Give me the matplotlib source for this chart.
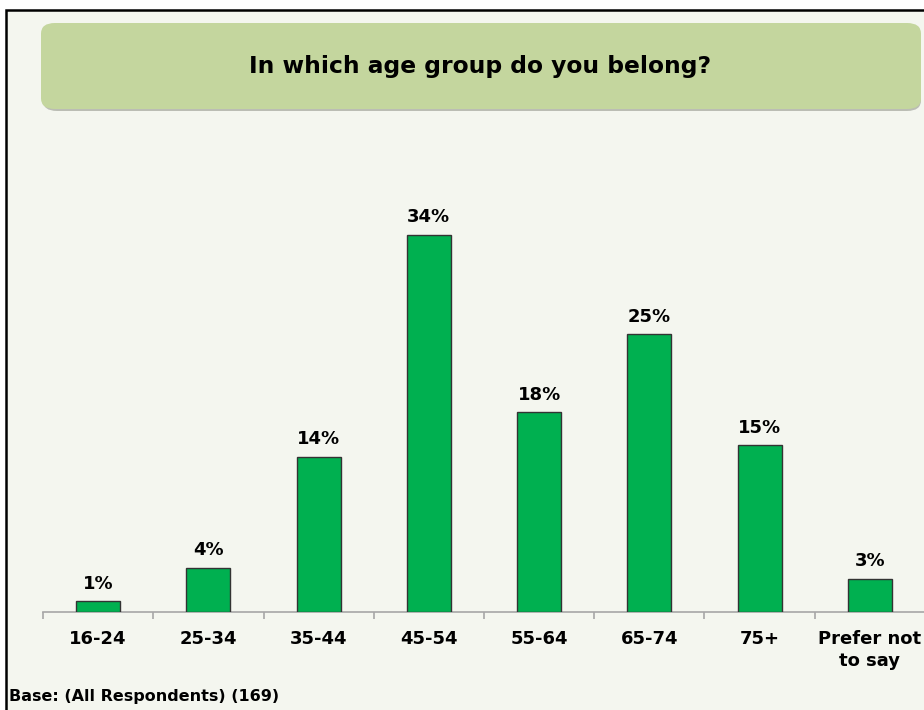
import matplotlib
matplotlib.use("Agg")
import matplotlib.pyplot as plt
from matplotlib.patches import FancyBboxPatch, Rectangle
import numpy as np

W, H = 924, 710

categories = ["16-24", "25-34", "35-44", "45-54", "55-64", "65-74", "75+", "Prefer not\nto say"]
values = [1, 4, 14, 34, 18, 25, 15, 3]
title = "In which age group do you belong?"
base_note = "Base: (All Respondents) (169)"

bg = "#F4F6EF"
bar_color = "#00B050"
title_fill = "#C4D69E"

fig = plt.figure(figsize=(W / 100, H / 100), dpi=100)
fig.patch.set_facecolor("white")

# panel background + black frame (cropped on right/bottom)
fig.patches.append(Rectangle((6 / W, -0.1), 1.2, (H - 10) / H + 0.1, transform=fig.transFigure,
                             facecolor=bg, edgecolor="black", linewidth=1.8, zorder=0))

# title box with shadow
shadow = FancyBboxPatch((43 / W, 1 - 111 / H), 878 / W, 84 / H,
                        boxstyle="round,pad=0,rounding_size=0.015", transform=fig.transFigure,
                        facecolor="#A3A69C", edgecolor="none", alpha=0.7, zorder=1)
box = FancyBboxPatch((41 / W, 1 - 109 / H), 880 / W, 86 / H,
                     boxstyle="round,pad=0,rounding_size=0.015", transform=fig.transFigure,
                     facecolor=title_fill, edgecolor="none", zorder=2)
fig.patches.extend([shadow, box])
fig.text(480 / W, 1 - 66 / H, title, ha="center", va="center", fontsize=16.8,
         fontweight="bold", color="black", zorder=3)

ax = fig.add_axes([43 / W, (H - 612) / H, 882 / W, 444 / H])
ax.set_zorder(5)
ax.set_facecolor("none")
x = np.arange(len(categories))
ax.bar(x, values, width=0.4, color=bar_color, edgecolor="#333333", linewidth=1.0, zorder=3)
for xi, v in zip(x, values):
    ax.annotate(f"{v}%", (xi, v), xytext=(0, 6), textcoords="offset points",
                ha="center", va="bottom", fontsize=13, fontweight="bold")

ax.set_xlim(-0.5, len(categories) - 0.5)
ax.set_ylim(0, 40)
ax.set_yticks([])
for s in ["top", "right", "left"]:
    ax.spines[s].set_visible(False)
ax.spines["bottom"].set_color("#A6A6A6")
ax.spines["bottom"].set_linewidth(1.2)

ax.set_xticks(x)
ax.set_xticklabels(categories, fontsize=13, fontweight="bold", linespacing=1.25)
ax.tick_params(axis="x", which="major", length=0, pad=13)
ax.set_xticks(np.arange(len(categories)) - 0.5, minor=True)
ax.tick_params(axis="x", which="minor", length=5, color="#A6A6A6", width=1.2)

fig.text(9 / W, 1 - 696 / H, base_note, ha="left", va="center", fontsize=11.5,
         fontweight="bold")

fig.savefig("out.png", dpi=100, facecolor=fig.get_facecolor())
